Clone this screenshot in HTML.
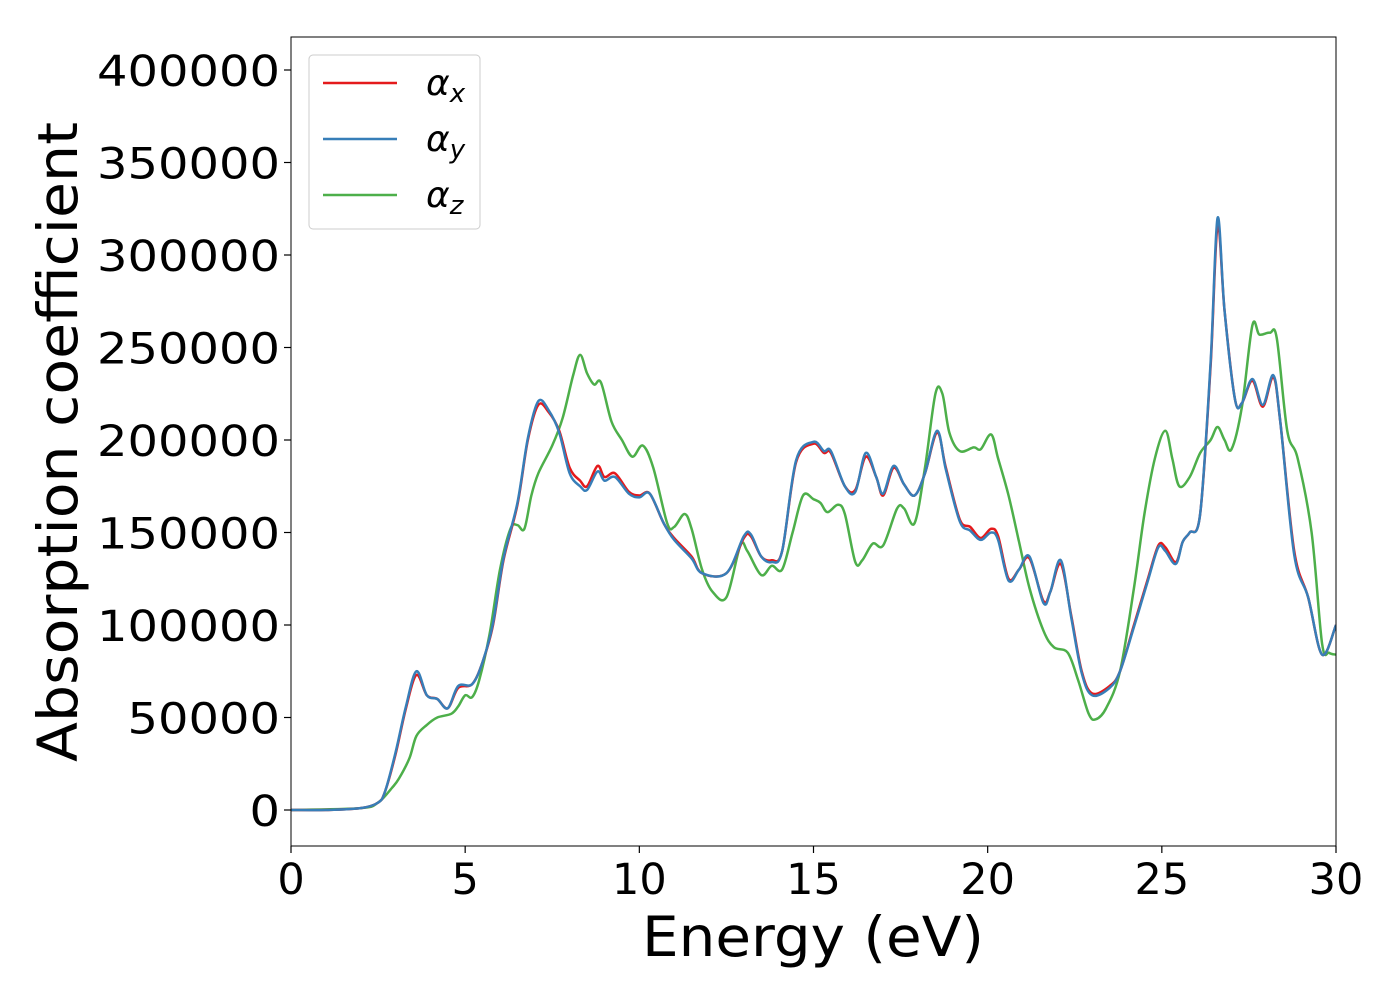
<!DOCTYPE html>
<html><head><meta charset="utf-8"><style>
body{margin:0;background:#fff}
svg{display:block;font-family:"DejaVu Sans","Liberation Sans",sans-serif}
</style></head><body>
<svg id="chart" width="1400" height="1000">
<g id="plot"></g>
</svg>
<script>
const ex=[0,1,2,2.5,2.7,3,3.3,3.6,3.9,4.2,4.5,4.8,5.2,5.5,5.8,6.1,6.5,6.8,7.1,7.4,7.7,8.0,8.3,8.5,8.8,9.0,9.3,9.7,10.0,10.3,10.7,11.0,11.5,11.8,12.5,13.0,13.2,13.5,13.8,14.1,14.5,15.0,15.3,15.5,15.9,16.2,16.5,16.8,17.0,17.3,17.6,17.9,18.2,18.55,18.8,19.2,19.5,19.8,20.1,20.3,20.6,20.9,21.2,21.6,21.8,22.1,22.4,22.7,23.0,23.5,23.8,24.2,24.6,24.9,25.1,25.4,25.6,25.8,26.1,26.4,26.6,26.8,27.1,27.3,27.6,27.9,28.2,28.4,28.8,29.2,29.6,30];
const alphaX=[0,0,1000,4000,10000,30000,55000,73000,62000,60000,55000,66000,68000,80000,100000,135000,165000,200000,219000,215000,205000,185000,178000,175000,186000,180000,182000,172000,170000,171000,155000,147000,137000,128000,128000,147000,148000,137000,135000,140000,188000,198000,193000,193000,175000,173000,191000,180000,170000,185000,176000,170000,182000,204000,185000,157000,153000,147000,152000,148000,125000,130000,136000,113000,118000,133000,105000,75000,63000,67000,75000,100000,125000,143000,142000,134000,145000,150000,160000,240000,316000,270000,222000,220000,232000,218000,234000,210000,140000,115000,84000,100000];
const alphaY=[0,0,1000,4000,10000,31000,56000,75000,62000,60000,55000,67000,68000,80000,101000,136000,166000,201000,221000,216000,204000,182000,175000,173000,183000,178000,180000,171000,169000,171000,155000,146000,136000,128000,128000,148000,149000,137000,134000,140000,189000,199000,194000,194000,175000,172000,193000,180000,171000,186000,176000,170000,182000,205000,184000,156000,151000,146000,150000,146000,124000,130000,137000,112000,118000,135000,104000,74000,62000,66000,75000,99000,124000,142000,140000,133000,145000,150000,160000,242000,320000,270000,222000,220000,233000,219000,235000,210000,138000,115000,84000,100000];
const ez=[0,2,2.5,2.9,3.1,3.4,3.6,3.9,4.2,4.6,4.8,5.0,5.2,5.4,5.7,6.0,6.3,6.5,6.7,6.9,7.1,7.5,7.8,8.1,8.3,8.5,8.7,8.9,9.2,9.5,9.8,10.1,10.4,10.8,11.0,11.3,11.5,11.8,12.1,12.5,12.9,13.1,13.5,13.8,14.1,14.4,14.7,15.0,15.2,15.4,15.7,15.9,16.2,16.4,16.7,17.0,17.4,17.6,17.9,18.2,18.5,18.7,18.9,19.2,19.6,19.8,20.1,20.3,20.6,20.9,21.2,21.6,21.9,22.3,22.6,22.9,23.1,23.4,23.8,24.2,24.5,24.8,25.1,25.3,25.5,25.8,26.1,26.4,26.6,26.8,27.0,27.3,27.6,27.8,28.1,28.3,28.6,28.9,29.3,29.6,29.8,30];
const alphaZ=[0,1000,4000,12000,17000,28000,40000,46000,50000,52000,56000,62000,61000,70000,95000,130000,152000,154000,152000,170000,182000,197000,212000,235000,246000,236000,230000,231000,210000,200000,191000,197000,185000,155000,153000,160000,152000,130000,118000,115000,143000,140000,127000,132000,130000,150000,170000,168000,166000,161000,165000,160000,134000,135000,144000,143000,163000,163000,155000,185000,225000,225000,204000,194000,196000,195000,203000,190000,170000,145000,120000,97000,88000,85000,70000,52000,49000,55000,75000,120000,160000,190000,205000,190000,175000,180000,193000,200000,207000,200000,195000,218000,262000,257000,258000,255000,205000,190000,150000,90000,85000,84000];
const xTicks=[0,5,10,15,20,25,30];
const yTicks=[0,50000,100000,150000,200000,250000,300000,350000,400000];
const seriesNames=["x","y","z"];

const L=291,R=1336,T=37,B=846;
const xs=v=>L+(v/30)*(R-L);
const ys=v=>810-v/50000*92.5;
const NS="http://www.w3.org/2000/svg";
const svg=document.getElementById('chart');
function mk(tag,attrs,parent){const e=document.createElementNS(NS,tag);for(const k in attrs)e.setAttribute(k,attrs[k]);(parent||svg).appendChild(e);return e;}
function path(xa,ya){
  const p=xa.map((x,i)=>[xs(x),ys(ya[i])]);
  let d="M"+p[0][0]+","+p[0][1];
  for(let i=0;i<p.length-1;i++){
    const p0=p[Math.max(i-1,0)],p1=p[i],p2=p[i+1],p3=p[Math.min(i+2,p.length-1)];
    const c1=[p1[0]+(p2[0]-p0[0])/6,p1[1]+(p2[1]-p0[1])/6];
    const c2=[p2[0]-(p3[0]-p1[0])/6,p2[1]-(p3[1]-p1[1])/6];
    d+=` C${c1[0]},${c1[1]} ${c2[0]},${c2[1]} ${p2[0]},${p2[1]}`;
  }
  return d;
}
const cp=mk('clipPath',{id:'clip'});mk('rect',{x:L,y:T,width:R-L,height:B-T},cp);
const g=mk('g',{'clip-path':'url(#clip)'});


const lz=mk('path',{d:path(ez,alphaZ),fill:'none',stroke:'#4daf4a','stroke-width':2.5},g);


const lx=mk('path',{d:path(ex,alphaX),fill:'none',stroke:'#e41a1c','stroke-width':2.5},g);


const ly=mk('path',{d:path(ex,alphaY),fill:'none',stroke:'#377eb8','stroke-width':2.5},g);


const frame=mk('rect',{x:L,y:T,width:R-L,height:B-T,fill:'none',stroke:'#000','stroke-width':1});


xTicks.forEach(t=>{
  const ln=mk('line',{x1:xs(t),x2:xs(t),y1:B,y2:B+7,stroke:'#000','stroke-width':1.2});
  
  
  const tx=mk('text',{x:xs(t),y:894,'font-size':43,'text-anchor':'middle'});tx.textContent=t;
  
  
});
yTicks.forEach(t=>{
  const ln=mk('line',{x1:L-7,x2:L,y1:ys(t),y2:ys(t),stroke:'#000','stroke-width':1.2});
  
  
  const s=String(t);
  const tx=mk('text',{x:280,y:ys(t)+16,'font-size':43,'text-anchor':'end',textLength:s.length*30.5,lengthAdjust:'spacingAndGlyphs'});tx.textContent=s;
  
  
});
const xl=mk('text',{x:813,y:956,'font-size':55,'text-anchor':'middle',textLength:342,lengthAdjust:'spacingAndGlyphs'});xl.textContent='Energy (eV)';


const yl=mk('text',{x:0,y:0,'font-size':55,'text-anchor':'middle',textLength:640,lengthAdjust:'spacingAndGlyphs',transform:'translate(77,442) rotate(-90)'});yl.textContent='Absorption coefficient';


const lg=mk('rect',{x:309,y:55,width:171,height:174,rx:4,fill:'#fff',stroke:'#ccc','stroke-width':1});


const cols=['#e41a1c','#377eb8','#4daf4a'];
seriesNames.forEach((n,i)=>{
  const y=83+i*56;
  const ln=mk('line',{x1:323,x2:397,y1:y,y2:y,stroke:cols[i],'stroke-width':2.5});
  
  
  const tx=mk('text',{x:426,y:y+12,'font-size':36,'font-style':'italic'});
  
  
  tx.textContent='α';
  const sub=mk('tspan',{'font-size':26,dy:7},tx);sub.textContent=n;
});
</script>
</body></html>
